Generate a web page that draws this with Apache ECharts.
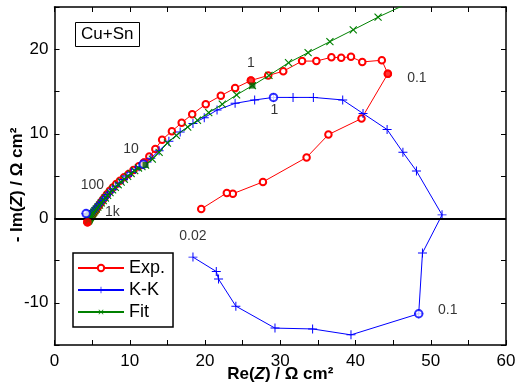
<!DOCTYPE html>
<html><head><meta charset="utf-8">
<script src="https://cdn.jsdelivr.net/npm/echarts@6/dist/echarts.min.js"></script>
<style>html,body{margin:0;padding:0;background:#fff}#c{width:516px;height:390px}</style>
</head><body><div id="c"></div>
<script>
// Experimental data (Re, -Im), high -> low frequency
const expData = [
[4.38,-0.48],[4.4,-0.44],[4.43,-0.4],[4.47,-0.34],[4.52,-0.27],[4.58,-0.18],[4.65,-0.08],[4.73,0.03],[4.82,0.15],[4.92,0.27],
[5.02,0.4],
[5.13,0.54],[5.25,0.7],[5.38,0.87],[5.52,1.05],[5.68,1.25],[5.85,1.46],[6.03,1.68],[6.22,1.91],[6.42,2.16],
[6.64,2.45],
[6.98,2.85],[7.35,3.25],[7.75,3.65],[8.2,4.05],[8.7,4.45],[9.25,4.85],[9.85,5.25],[10.5,5.7],[11.2,6.15],
[11.9,6.6],
[12.6,7.3],[13.4,8.2],[14.3,9.3],[15.6,10.3],[16.9,11.3],[18.3,12.3],[20.1,13.5],[22.1,14.5],[24.0,15.4],
[26.1,16.3],
[28.4,16.9],[30.4,17.4],[32.9,18.6],[34.8,18.6],[36.8,19.05],[38.1,19.0],[39.4,19.1],[40.9,18.5],[43.5,18.7],
[44.3,17.1],
[40.8,11.8],[36.4,9.9],[33.5,7.2],[27.7,4.3],[23.7,2.9],[22.9,3.0],[19.5,1.1]
];
// Kramers-Kronig transform
const kkData = [
[4.2,0.55],
[4.3,0.45],[4.4,0.4],[4.5,0.38],[4.6,0.4],[4.7,0.45],[4.8,0.52],[4.9,0.6],[5.0,0.7],[5.1,0.8],
[5.22,0.92],
[5.35,1.05],[5.49,1.2],[5.64,1.36],[5.8,1.53],[5.97,1.71],[6.16,1.9],[6.36,2.1],[6.58,2.32],[6.82,2.55],
[7.08,2.8],
[7.4,3.1],[7.76,3.42],[8.16,3.78],[8.6,4.18],[9.1,4.6],[9.64,5.0],[10.2,5.4],[10.75,5.8],[11.25,6.1],
[11.8,6.4],
[12.8,7.1],[13.9,8.0],[15.2,9.1],[16.7,10.2],[18.4,11.2],[19.9,11.9],[21.6,12.8],[24.0,13.6],[26.6,14.0],
[29.1,14.3],
[31.7,14.3],[34.4,14.3],[38.3,14.0],[41.0,12.4],[44.2,10.5],[46.3,7.8],[48.1,5.6],[51.5,0.4],[48.9,-4.1],
[48.4,-11.3],
[39.4,-13.8],[34.3,-13.1],[29.3,-13.0],[24.1,-10.4],[21.8,-7.2],[21.5,-6.3],[18.4,-4.6]
];
// Fit
const fitData = [
[4.5,-0.3],[4.52,-0.25],[4.55,-0.19],[4.59,-0.12],[4.64,-0.04],[4.7,0.05],[4.77,0.15],[4.86,0.27],[4.96,0.4],[5.08,0.55],
[5.22,0.72],
[5.38,0.9],[5.56,1.1],[5.76,1.32],[5.98,1.56],[6.22,1.82],[6.48,2.1],[6.76,2.4],[7.06,2.71],[7.38,3.03],
[7.72,3.36],
[8.08,3.66],[8.46,3.97],[8.86,4.29],[9.28,4.62],[9.72,4.96],[10.18,5.3],[10.66,5.63],[11.16,5.95],[11.62,6.12],
[12.1,6.3],
[13.0,7.0],[13.9,7.8],[15.0,8.9],[16.2,9.8],[17.7,10.8],[19.0,11.6],[20.5,12.5],[22.3,13.5],[24.2,14.6],
[26.3,15.7],
[28.5,16.9],[31.1,18.4],[33.7,19.6],[36.6,20.9],[39.7,22.3],[43.0,23.8],[46.4,25.2]
];
// highlighted frequency points (indices into the arrays)
const expMarkIdx = [0,30,40,50];
const kkMarkIdx = [0,30,40,50];
const fitMarkIdx = [30,40];
// frequency annotations: [series, index, text, dx, dy]
const freqLabels = [
 ['exp',40,'1',0,-17],['exp',50,'0.1',29,4],['exp',30,'10',-13,-13],['exp',20,'100',-12,-12],['exp',10,'1k',20,-3],
 ['kk',40,'1',1,13],['kk',50,'0.1',29,-4],['kk',57,'0.02',0,-21]
];
const xTicks = [0,10,20,30,40,50,60];
const yTicks = [-10,0,10,20];

const src = {exp:expData, kk:kkData, fit:fitData};
const FONT = 'Liberation Sans, Arial, sans-serif';
const plus = 'path://M4.45,0h1.1v4.45h4.45v1.1h-4.45v4.45h-1.1v-4.45h-4.45v-1.1h4.45z';
const fmtX = v => xTicks.indexOf(v) >= 0 ? String(v) : '';
const fmtY = v => yTicks.indexOf(v) >= 0 ? String(v) : '';

const axisCommon = {
  axisLine:{show:true,onZero:false,lineStyle:{color:'#000',width:1.5}},
  axisTick:{show:true,inside:true,length:5,lineStyle:{color:'#000',width:1}},
  splitLine:{show:false}
};
const nameRich = {
  b:{fontSize:17,fontWeight:'bold',fontFamily:FONT,color:'#000'},
  i:{fontSize:17,fontWeight:'bold',fontStyle:'italic',fontFamily:FONT,color:'#000'}
};

const chart = echarts.init(document.getElementById('c'), null, {renderer:'canvas'});
chart.setOption({
  animation:false,
  backgroundColor:'#fff',
  title:{text:'Cu+Sn',left:75,top:22,padding:[4,6],borderColor:'#000',borderWidth:1,
    textStyle:{fontSize:17,fontWeight:'normal',color:'#000',fontFamily:FONT}},
  grid:{left:54.5,right:10,top:7,bottom:45,containLabel:false,outerBoundsMode:'none'},
  legend:{data:['Exp.','K-K','Fit'],orient:'vertical',left:73,top:253,itemWidth:46,itemHeight:8,itemGap:4,
    padding:[6,8,6,4],borderColor:'#000',borderWidth:1.5,backgroundColor:'#fff',borderRadius:0,
    textStyle:{fontSize:18,color:'#000',fontFamily:FONT}},
  xAxis:[
    Object.assign({type:'value',min:0,max:60,interval:5,position:'bottom',
      axisLabel:{formatter:fmtX,fontSize:17,color:'#000',fontFamily:FONT,margin:8},
      name:'{b|Re(}{i|Z}{b|) / Ω cm²}',nameLocation:'middle',nameGap:21,nameMoveOverlap:false,
      nameTextStyle:{rich:nameRich}},axisCommon),
    Object.assign({type:'value',min:0,max:60,interval:5,position:'top',axisLabel:{show:false}},axisCommon)
  ],
  yAxis:[
    Object.assign({type:'value',min:-15,max:25,interval:5,position:'left',
      axisLabel:{formatter:fmtY,fontSize:17,color:'#000',fontFamily:FONT,margin:6},
      name:'{b|- Im(}{i|Z}{b|) / Ω cm²}',nameLocation:'middle',nameGap:29,nameRotate:90,nameMoveOverlap:false,
      nameTextStyle:{rich:nameRich,padding:[0,18,0,0]}},axisCommon),
    Object.assign({type:'value',min:-15,max:25,interval:5,position:'right',axisLabel:{show:false}},axisCommon)
  ],
  series:[
    {name:'Exp.',type:'line',data:expData,color:'#ff0000',symbol:'emptyCircle',symbolSize:6.5,
      lineStyle:{width:1},itemStyle:{borderWidth:0.9},z:2,clip:true,
      markLine:{silent:true,symbol:['none','none'],label:{show:false},
        lineStyle:{color:'#000',width:2,type:'solid'},data:[{yAxis:0}]}},
    {name:'K-K',type:'line',data:kkData,color:'#0000ff',symbol:plus,symbolSize:9,
      lineStyle:{width:1},z:3,clip:true},
    {name:'Fit',type:'line',data:fitData,color:'#008000',symbol:plus,symbolSize:10,symbolRotate:45,
      lineStyle:{width:1},z:4,clip:true},
    {type:'scatter',data:expMarkIdx.map(i=>expData[i]),symbol:'circle',symbolSize:8.5,
      itemStyle:{color:'#ff0000'},z:5},
    {type:'scatter',data:kkMarkIdx.map(i=>kkData[i]),symbol:'emptyCircle',symbolSize:7.5,
      itemStyle:{color:'#0000ff',borderWidth:0.9},z:5},
    {type:'scatter',data:fitMarkIdx.map(i=>fitData[i]),symbol:'rect',symbolSize:6,
      itemStyle:{color:'#006400'},z:5},
    {type:'scatter',symbolSize:1,itemStyle:{color:'rgba(0,0,0,0)'},z:6,silent:true,
      data:freqLabels.map(f=>({value:src[f[0]][f[1]],
        label:{show:true,position:'inside',formatter:f[2],offset:[f[3],f[4]],
          fontSize:14,color:'#000',fontFamily:FONT}}))}
  ]
});
</script></body></html>
